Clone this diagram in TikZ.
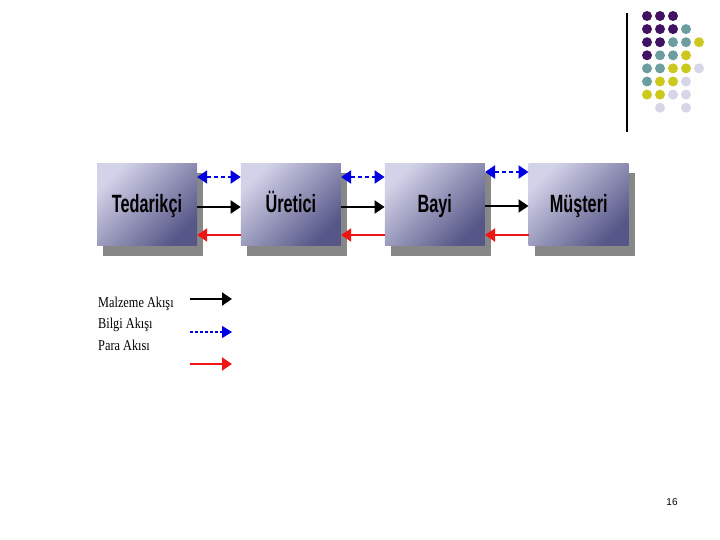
\documentclass[tikz,border=0pt]{standalone}
\usepackage{fontspec}
\setmainfont{Liberation Serif}
\setsansfont{Liberation Sans}
\usepackage{graphicx}
\usetikzlibrary{positioning,arrows.meta,shadows}
\definecolor{boxlight}{RGB}{210,210,232}
\definecolor{boxdark}{RGB}{86,86,136}
\definecolor{shadowgray}{RGB}{135,135,135}
\definecolor{infoblue}{RGB}{0,0,225}
\definecolor{moneyred}{RGB}{240,20,20}
\definecolor{dotpurple}{RGB}{66,18,98}
\definecolor{dotteal}{RGB}{108,158,160}
\definecolor{dotyellow}{RGB}{204,200,28}
\definecolor{dotlilac}{RGB}{214,214,232}
\newcommand{\narrowbold}[1]{\scalebox{0.65}[1]{#1}}
\newcommand{\narrowserif}[1]{\scalebox{0.82}[1]{#1}}

\begin{document}
\begin{tikzpicture}[
  x=1pt, y=-1pt,
  node distance=43.5pt,
  actor/.style={rectangle, minimum width=100pt, minimum height=82pt,
                text height=18pt, text depth=3pt,
                top color=boxlight, bottom color=boxdark, shading angle=45,
                drop shadow={shadow xshift=6pt, shadow yshift=-10pt,
                             fill=shadowgray, opacity=1},
                font=\sffamily\bfseries\fontsize{25}{28}\selectfont},
  legendtext/.style={anchor=base west, inner sep=0pt,
                     font=\fontsize{15}{17}\selectfont},
  matflow/.style={-{Triangle[length=10pt,width=13pt]}, black, line width=2pt},
  infoflow/.style={{Triangle[length=10pt,width=13pt]}-{Triangle[length=10pt,width=13pt]},
                   infoblue, line width=2pt, dash pattern=on 4pt off 3pt},
  infolegend/.style={-{Triangle[length=10pt,width=12pt]}, infoblue, line width=1.5pt,
                     dash pattern=on 3pt off 2pt},
  moneyflow/.style={-{Triangle[length=10pt,width=13pt]}, moneyred, line width=2pt},
  dot/.style={circle, inner sep=0pt, minimum size=10pt}
]
\useasboundingbox[fill=white] (0,0) rectangle (720,540);

% supply chain
\node[actor] (ted) at (147,204.5) {\narrowbold{Tedarikçi}};
\node[actor, right=of ted] (ure) {\narrowbold{Üretici}};
\node[actor, right=of ure] (bayi) {\narrowbold{Bayi}};
\node[actor, right=of bayi] (mus) {\narrowbold{Müşteri}};

\draw[infoflow] ([yshift=27.5pt]ted.east) -- ([yshift=27.5pt]ure.west);
\draw[infoflow] ([yshift=27.5pt]ure.east) -- ([yshift=27.5pt]bayi.west);
\draw[infoflow] ([yshift=32.5pt]bayi.east) -- ([yshift=32.5pt]mus.west);
\draw[matflow] ([yshift=-2.5pt]ted.east) -- ([yshift=-2.5pt]ure.west);
\draw[matflow] ([yshift=-2.5pt]ure.east) -- ([yshift=-2.5pt]bayi.west);
\draw[matflow] ([yshift=-1.5pt]bayi.east) -- ([yshift=-1.5pt]mus.west);
\draw[moneyflow] ([yshift=-30.5pt]ure.west) -- ([yshift=-30.5pt]ted.east);
\draw[moneyflow] ([yshift=-30.5pt]bayi.west) -- ([yshift=-30.5pt]ure.east);
\draw[moneyflow] ([yshift=-30.5pt]mus.west) -- ([yshift=-30.5pt]bayi.east);

% legend
\node[legendtext] (lmat) at (98,307) {\narrowserif{Malzeme Akışı}};
\node[legendtext] (linfo) at (98,328.5) {\narrowserif{Bilgi Akışı}};
\node[legendtext] (lmoney) at (98,350) {\narrowserif{Para Akısı}};
\coordinate (mata) at (190,299);  \coordinate (matb) at (232,299);
\coordinate (infoa) at (190,332); \coordinate (infob) at (232,332);
\coordinate (moneya) at (190,364); \coordinate (moneyb) at (232,364);
\draw[matflow] (mata) -- (matb);
\draw[infolegend] (infoa) -- (infob);
\draw[moneyflow] (moneya) -- (moneyb);

% slide decoration
\coordinate (ruletop) at (627,13);
\coordinate (rulebot) at (627,132);
\draw[line width=1.2pt] (ruletop) -- (rulebot);
\foreach \c/\r/\col in {0/0/dotpurple, 1/0/dotpurple, 2/0/dotpurple,
    0/1/dotpurple, 1/1/dotpurple, 2/1/dotpurple, 3/1/dotteal,
    0/2/dotpurple, 1/2/dotpurple, 2/2/dotteal, 3/2/dotteal, 4/2/dotyellow,
    0/3/dotpurple, 1/3/dotteal, 2/3/dotteal, 3/3/dotyellow,
    0/4/dotteal, 1/4/dotteal, 2/4/dotyellow, 3/4/dotyellow, 4/4/dotlilac,
    0/5/dotteal, 1/5/dotyellow, 2/5/dotyellow, 3/5/dotlilac,
    0/6/dotyellow, 1/6/dotyellow, 2/6/dotlilac, 3/6/dotlilac,
    1/7/dotlilac, 3/7/dotlilac}
  \node[dot, fill=\col] (dot-\c-\r) at (647+13*\c,16+13.1*\r) {};

\node[font=\sffamily\fontsize{10}{12}\selectfont] (pageno) at (672,502) {16};
\end{tikzpicture}
\end{document}
